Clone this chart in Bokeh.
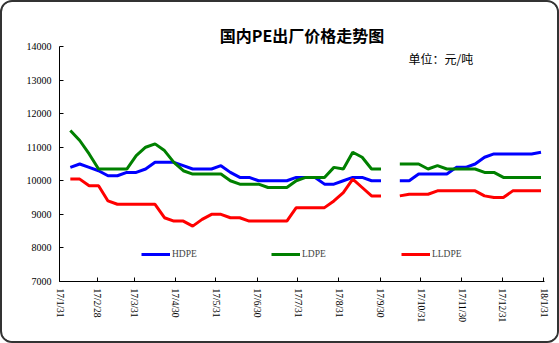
import numpy as np
from bokeh.plotting import figure
from bokeh.models import (Label, FixedTicker, Legend, LegendItem, LinearAxis,
                          Range1d, CustomJSTickFormatter)
from bokeh.embed import file_html
from bokeh.resources import INLINE

nan = np.nan
weeks = list(range(51))
hdpe = [10400, 10500, 10400, 10300, 10150, 10150, 10250, 10250, 10350, 10550,
        10550, 10550, 10450, 10350, 10350, 10350, 10450, 10250, 10100, 10100,
        10000, 10000, 10000, 10000, 10100, 10100, 10100, 9900, 9900, 10000,
        10100, 10100, 10000, 10000, nan, 10000, 10000, 10200, 10200, 10200,
        10200, 10400, 10400, 10500, 10700, 10800, 10800, 10800, 10800, 10800, 10850]
ldpe = [11500, 11200, 10800, 10350, 10350, 10350, 10350, 10750, 11000, 11100,
        10900, 10550, 10300, 10200, 10200, 10200, 10200, 10000, 9900, 9900,
        9900, 9800, 9800, 9800, 10000, 10100, 10100, 10100, 10400, 10350,
        10850, 10700, 10350, 10350, nan, 10500, 10500, 10500, 10350, 10450,
        10350, 10350, 10350, 10350, 10250, 10250, 10100, 10100, 10100, 10100, 10100]
lldpe = [10050, 10050, 9850, 9850, 9400, 9300, 9300, 9300, 9300, 9300,
         8900, 8800, 8800, 8650, 8850, 9000, 9000, 8900, 8900, 8800,
         8800, 8800, 8800, 8800, 9200, 9200, 9200, 9200, 9400, 9650,
         10050, 9800, 9550, 9550, nan, 9550, 9600, 9600, 9600, 9700,
         9700, 9700, 9700, 9700, 9550, 9500, 9500, 9700, 9700, 9700, 9700]

tick_pos = [-1.15, 2.85, 6.77, 11.17, 15.46, 19.85, 24.18, 28.5, 32.93,
            37.21, 41.6, 45.89, 50.28]
tick_labels = ["17/1/31", "17/2/28", "17/3/31", "17/4/30", "17/5/31", "17/6/30",
               "17/7/31", "17/8/31", "17/9/30", "17/10/31", "17/11/30",
               "17/12/31", "18/1/31"]
y_ticks = [7000, 8000, 9000, 10000, 11000, 12000, 13000, 14000]

p = figure(width=559, height=343, output_backend="svg", toolbar_location=None,
           x_range=Range1d(-1.15, 50.37), y_range=Range1d(7000, 14000),
           min_border_left=57, min_border_right=17, min_border_top=44,
           min_border_bottom=64, background_fill_color="white",
           border_fill_color="white")
p.styles = {"border": "2px solid #333333", "border-radius": "12px",
            "overflow": "hidden"}
p.outline_line_color = None
p.xgrid.visible = False
p.ygrid.visible = False

bottom_axis = p.below[0]
left_axis = p.left[0]

# invisible spacer between the frame and the title
spacer = LinearAxis(ticker=FixedTicker(ticks=[]), axis_line_color=None,
                    major_tick_line_color=None, minor_tick_line_color=None,
                    major_tick_in=0, major_tick_out=11, minor_tick_out=0,
                    minor_tick_in=0, major_label_standoff=0)
p.add_layout(spacer, "above")

p.title.text = "国内PE出厂价格走势图"
p.title.align = "center"
p.title.vertical_align = "bottom"
p.title.text_font = "Noto Sans CJK SC"
p.title.text_font_size = "16px"
p.title.text_font_style = "bold"
p.title.text_color = "black"
p.title.standoff = 0

r1 = p.line(weeks, hdpe, line_color="#0000FF", line_width=3)
r2 = p.line(weeks, ldpe, line_color="#008000", line_width=3)
r3 = p.line(weeks, lldpe, line_color="#FF0000", line_width=3)

for ax in (bottom_axis, left_axis):
    ax.axis_line_color = "black"
    ax.axis_line_width = 1
    ax.major_tick_in = 4
    ax.major_tick_out = 0
    ax.minor_tick_line_color = None
    ax.major_tick_line_color = "black"
    ax.major_label_text_font = "Liberation Serif"
    ax.major_label_text_color = "black"

bottom_axis.ticker = FixedTicker(ticks=tick_pos)
bottom_axis.formatter = CustomJSTickFormatter(args=dict(labels=tick_labels),
                                              code="return labels[index];")
bottom_axis.major_label_orientation = -np.pi / 2
bottom_axis.major_label_text_font_size = "9.5px"
bottom_axis.major_label_standoff = 7

left_axis.ticker = FixedTicker(ticks=y_ticks)
left_axis.major_label_text_font_size = "10px"
left_axis.major_label_standoff = 8

legend = Legend(items=[LegendItem(label="HDPE", renderers=[r1]),
                       LegendItem(label="LDPE", renderers=[r2]),
                       LegendItem(label="LLDPE", renderers=[r3])],
                orientation="horizontal", location=(82, 22), padding=0, margin=0,
                spacing=2, glyph_width=29, glyph_height=10, label_standoff=2,
                label_width=97, label_height=10, border_line_color=None,
                background_fill_alpha=0, label_text_font="Liberation Serif",
                label_text_font_size="9.5px")
p.add_layout(legend)

p.add_layout(Label(x=404, y=54, x_units="canvas", y_units="canvas",
                   text="单位：元/吨", text_align="left",
                   text_baseline="middle", text_font="Noto Sans CJK SC",
                   text_font_size="12px", text_color="black"))

open("out.html", "w").write(file_html(p, INLINE))
